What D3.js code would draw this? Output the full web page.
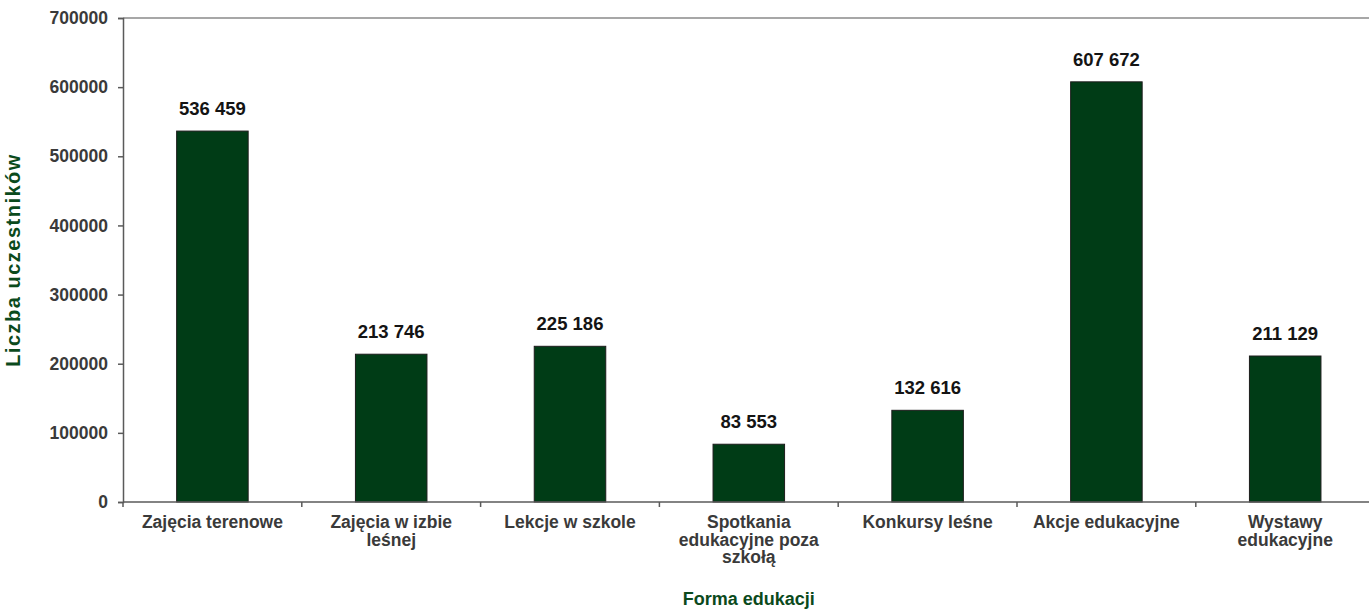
<!DOCTYPE html>
<html>
<head>
<meta charset="utf-8">
<script src="https://cdn.jsdelivr.net/npm/d3@7"></script>
<style>
  html, body { margin: 0; padding: 0; background: #fff; }
  svg { display: block; font-family: "Liberation Sans", Arial, sans-serif; }
</style>
</head>
<body>
<svg id="chart" width="1369" height="609"></svg>
<script>
const categories = [
  "Zajęcia terenowe",
  "Zajęcia w izbie|leśnej",
  "Lekcje w szkole",
  "Spotkania|edukacyjne poza|szkołą",
  "Konkursy leśne",
  "Akcje edukacyjne",
  "Wystawy|edukacyjne"
];
const values = [536459, 213746, 225186, 83553, 132616, 607672, 211129];
const yTicks = [0, 100000, 200000, 300000, 400000, 500000, 600000, 700000];
const xTitle = "Forma edukacji";
const yTitle = "Liczba uczestników";

(function () {
const svg = d3.select("#chart");
const mLeft = 123, mRight = 1374.6, mTop = 18, mBottom = 502;
const green = "#003c16";
const titleGreen = "#0b4a1c";
const labelGrey = "#3a3a3a";

const x = d3.scaleBand().domain(categories).range([mLeft, mRight]).paddingInner(0.6).paddingOuter(0.3);
const y = d3.scaleLinear().domain([0, 700000]).range([mBottom, mTop]);

const fmt = d3.formatLocale({ decimal: ",", thousands: " ", grouping: [3], currency: ["", ""] }).format(",");

// plot area top border
svg.append("line").attr("x1", mLeft).attr("x2", mRight).attr("y1", y(700000)).attr("y2", y(700000))
  .attr("stroke", "#8a8a8a").attr("stroke-width", 1.5);

// bars
svg.append("g").selectAll("rect").data(values).join("rect")
  .attr("x", (d, i) => x(categories[i]))
  .attr("y", d => y(d))
  .attr("width", x.bandwidth())
  .attr("height", d => y(0) - y(d))
  .attr("fill", green)
  .attr("stroke", "#1c1c1c")
  .attr("stroke-width", 1);

// value labels
svg.append("g").selectAll("text").data(values).join("text")
  .attr("x", (d, i) => x(categories[i]) + x.bandwidth() / 2)
  .attr("y", d => y(d) - 16)
  .attr("text-anchor", "middle")
  .attr("font-size", "18.5px")
  .attr("font-weight", "bold")
  .attr("fill", "#141414")
  .text(d => fmt(d));

// y axis
const yAxis = d3.axisLeft(y).tickValues(yTicks).tickFormat(d3.format("d")).tickSize(5).tickPadding(10);
const gy = svg.append("g").attr("transform", `translate(${mLeft},0)`).call(yAxis);
gy.select(".domain").attr("stroke", "#5a5a5a").attr("stroke-width", 1.5);
gy.selectAll(".tick line").attr("stroke", "#5a5a5a").attr("stroke-width", 1.5);
gy.selectAll(".tick text").attr("font-size", "17.5px").attr("font-weight", "bold").attr("fill", labelGrey)
  .attr("font-family", "'Liberation Sans', Arial, sans-serif");

// x axis line and ticks between categories
const gx = svg.append("g");
gx.append("line").attr("x1", mLeft).attr("x2", mRight).attr("y1", mBottom).attr("y2", mBottom)
  .attr("stroke", "#5a5a5a").attr("stroke-width", 1.5);
const step = x.step();
const boundaries = d3.range(categories.length + 1).map(i => mLeft + i * step);
gx.selectAll("line.tk").data(boundaries).join("line").attr("class", "tk")
  .attr("x1", d => d).attr("x2", d => d).attr("y1", mBottom).attr("y2", mBottom + 5)
  .attr("stroke", "#5a5a5a").attr("stroke-width", 1.5);

// category labels
const lab = svg.append("g").selectAll("text").data(categories).join("text")
  .attr("text-anchor", "middle")
  .attr("font-size", "17.5px")
  .attr("font-weight", "bold")
  .attr("fill", labelGrey)
  .attr("transform", d => `translate(${x(d) + x.bandwidth() / 2},${mBottom + 26})`);
lab.selectAll("tspan").data(d => d.split("|")).join("tspan")
  .attr("x", 0).attr("dy", (d, i) => i === 0 ? 0 : 17.5).text(d => d);

// axis titles
svg.append("text").attr("x", (mLeft + mRight) / 2).attr("y", 605).attr("text-anchor", "middle")
  .attr("font-size", "18px").attr("font-weight", "bold").attr("fill", titleGreen).text(xTitle);
svg.append("text").attr("transform", `translate(20,${(mTop + mBottom) / 2}) rotate(-90)`)
  .attr("text-anchor", "middle").attr("font-size", "20px").attr("font-weight", "bold")
  .attr("letter-spacing", "1.5px").attr("fill", titleGreen).text(yTitle);
})();
</script>
</body>
</html>
